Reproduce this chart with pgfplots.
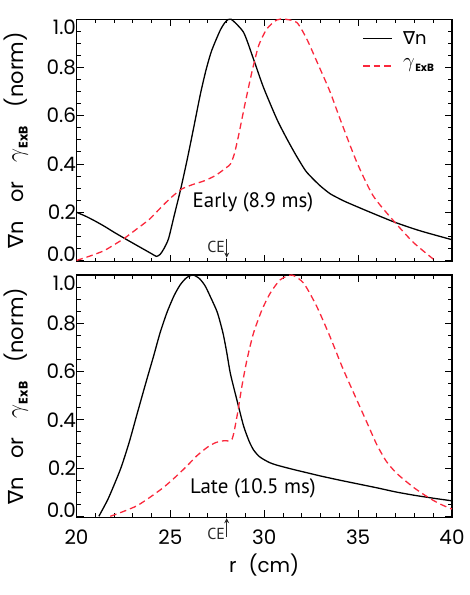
\documentclass[border=0pt]{standalone}
\usepackage{fontspec}
\setmainfont{Poppins}
\newfontfamily\annot{PT Sans}
\newfontfamily\dejavu{DejaVu Sans}
\usepackage{pgfplots}
\pgfplotsset{compat=1.18}
\usetikzlibrary{arrows.meta}

\definecolor{dred}{RGB}{250,40,60}
\definecolor{cegray}{RGB}{40,40,40}

\newcommand{\gradn}{{\dejavu ∇}n}
% gamma_ExB: #1 size of gamma, #2 size of subscript
\newcommand{\gexb}[2]{{\fontsize{#1}{#1}\selectfont$\gamma$}\kern0.5pt\raisebox{-0.4ex}{\fontsize{#2}{#2}\selectfont\bfseries ExB}}

% normalised profiles, early time
\pgfplotstableread{
r      v
20.00  0.200
20.50  0.183
21.00  0.163
21.50  0.141
22.00  0.117
22.55  0.092
23.00  0.072
23.50  0.050
24.00  0.028
24.26  0.017
24.45  0.025
24.65  0.048
24.90  0.090
25.20  0.185
25.55  0.296
25.90  0.420
26.24  0.550
26.60  0.690
26.90  0.790
27.20  0.870
27.66  0.955
27.95  0.990
28.23  1.000
28.90  0.945
29.43  0.834
29.96  0.717
30.67  0.586
31.20  0.505
31.70  0.435
32.20  0.372
32.60  0.338
33.00  0.308
33.50  0.277
34.00  0.256
34.40  0.241
35.64  0.200
36.97  0.158
38.30  0.123
40.00  0.086
}\earlyn
\pgfplotstableread{
r      v
20.00  0.000
20.70  0.018
21.45  0.040
22.00  0.065
22.55  0.092
23.20  0.130
23.90  0.172
24.60  0.228
25.10  0.265
25.60  0.296
26.20  0.315
26.80  0.330
27.40  0.352
28.00  0.386
28.20  0.400
28.40  0.440
28.63  0.517
28.99  0.655
29.34  0.780
29.70  0.890
30.14  0.960
30.67  0.997
31.10  1.000
31.74  0.986
32.27  0.917
32.90  0.807
33.50  0.700
34.04  0.586
34.93  0.407
35.80  0.268
36.88  0.165
37.94  0.075
39.00  0.006
}\earlyg
% late time
\pgfplotstableread{
r      v
21.19  0.000
21.70  0.075
22.34  0.195
22.80  0.305
23.23  0.425
23.70  0.555
24.11  0.665
24.45  0.760
24.82  0.845
25.20  0.915
25.53  0.960
25.85  0.988
26.20  1.000
26.55  0.985
26.85  0.955
27.13  0.910
27.50  0.845
27.80  0.760
28.00  0.680
28.20  0.590
28.55  0.480
28.90  0.374
29.20  0.310
29.43  0.275
29.70  0.250
29.96  0.236
30.30  0.222
30.67  0.212
31.50  0.195
32.30  0.180
33.00  0.167
34.00  0.150
35.00  0.134
36.00  0.118
37.00  0.101
38.00  0.087
39.00  0.075
40.00  0.064
}\laten
\pgfplotstableread{
r      v
21.80  0.000
22.50  0.020
23.23  0.044
23.90  0.078
24.64  0.120
25.30  0.165
25.89  0.209
26.40  0.250
26.95  0.285
27.40  0.305
27.84  0.313
28.28  0.319
28.55  0.415
28.81  0.539
29.08  0.649
29.43  0.760
29.88  0.856
30.32  0.925
30.85  0.980
31.47  1.000
32.10  0.966
32.80  0.869
33.50  0.745
34.20  0.610
35.00  0.470
35.50  0.383
36.00  0.296
36.50  0.228
37.00  0.182
37.50  0.148
38.00  0.117
38.50  0.090
39.00  0.066
39.50  0.046
40.00  0.030
}\lateg

\pgfplotsset{
  panel/.style={
    scale only axis, width=375.5bp, height=242.5bp,
    xmin=20, xmax=40, ymin=-0.005, ymax=1.0,
    xtick={20,25,...,40}, minor x tick num=4,
    ytick={0,0.2,...,1.0}, minor y tick num=3,
    tick align=inside, tick pos=both,
    major tick length=7bp, minor tick length=4bp,
    axis line style={line width=1.2bp},
    every tick/.style={black, line width=0.9bp},
    tick label style={font=\fontsize{20}{20}\selectfont},
    /pgf/number format/assume math mode=true,
    yticklabel style={/pgf/number format/fixed, /pgf/number format/fixed zerofill,
      /pgf/number format/precision=1, xshift=3bp,
      yshift={ifthenelse(\ticknum==0,6,ifthenelse(\ticknum==5,-8,0))}},
    ylabel={\gradn\hspace{0.9em}or\hspace{0.9em}\gexb{25}{12.5}\hspace{0.9em}(norm)},
    ylabel style={at={(axis description cs:-0.162,0.5)}, anchor=center,
      font=\fontsize{21}{21}\selectfont},
    clip=false,
  },
  nline/.style={black, line width=1.3bp, smooth, tension=0.4},
  gline/.style={dred, line width=1.3bp, dash pattern=on 6.5bp off 4bp, smooth, tension=0.4},
}

\begin{document}
\begin{tikzpicture}[x=1bp,y=1bp]
\useasboundingbox (0,0) rectangle (470,595);

% top: early
\begin{axis}[panel, at={(76.5bp,333.3bp)}, anchor=south west,
  xticklabels={},
]
\addplot[nline] table[x=r,y=v] {\earlyn};
\addplot[gline] table[x=r,y=v] {\earlyg};
% key, top right
\draw[black, line width=1.3bp] (rel axis cs:0.763,0.921) -- (rel axis cs:0.840,0.921);
\node[anchor=west, inner sep=0pt, font=\fontsize{18}{18}\selectfont] at (rel axis cs:0.8695,0.921) {\gradn};
\draw[dred, line width=1.3bp, dash pattern=on 6.5bp off 4bp] (rel axis cs:0.763,0.807) -- (rel axis cs:0.840,0.807);
\node[anchor=west, inner sep=0pt, font=\fontsize{18}{18}\selectfont] at (rel axis cs:0.8695,0.812) {\gexb{21}{10.5}};
\node[font=\annot\fontsize{21}{21}\selectfont] at (axis cs:29.4,0.242) {Early (8.9 ms)};
\draw[cegray, line width=1bp, -{Stealth[length=5bp,width=5bp]}] (axis cs:28,0.09) -- (axis cs:28,0.012);
\node[cegray, anchor=east, inner sep=1.5bp, font=\annot\fontsize{16}{16}\selectfont] at (axis cs:28,0.056) {CE};
\end{axis}

% bottom: late
\begin{axis}[panel, at={(76.5bp,77.5bp)}, anchor=south west,
  xlabel={r\hspace{0.6em}(cm)},
  xlabel style={at={(axis description cs:0.5,-0.195)}, anchor=center,
    font=\fontsize{20}{20}\selectfont},
  xticklabel style={yshift=-9bp},
]
\addplot[nline] table[x=r,y=v] {\laten};
\addplot[gline] table[x=r,y=v] {\lateg};
\node[font=\annot\fontsize{21}{21}\selectfont] at (axis cs:29.4,0.114) {Late (10.5 ms)};
\draw[cegray, line width=1bp, -{Stealth[length=5bp,width=5bp]}] (axis cs:28,-0.086) -- (axis cs:28,-0.008);
\node[cegray, anchor=east, inner sep=1.5bp, font=\annot\fontsize{16}{16}\selectfont] at (axis cs:28,-0.072) {CE};
\end{axis}
\end{tikzpicture}
\end{document}
